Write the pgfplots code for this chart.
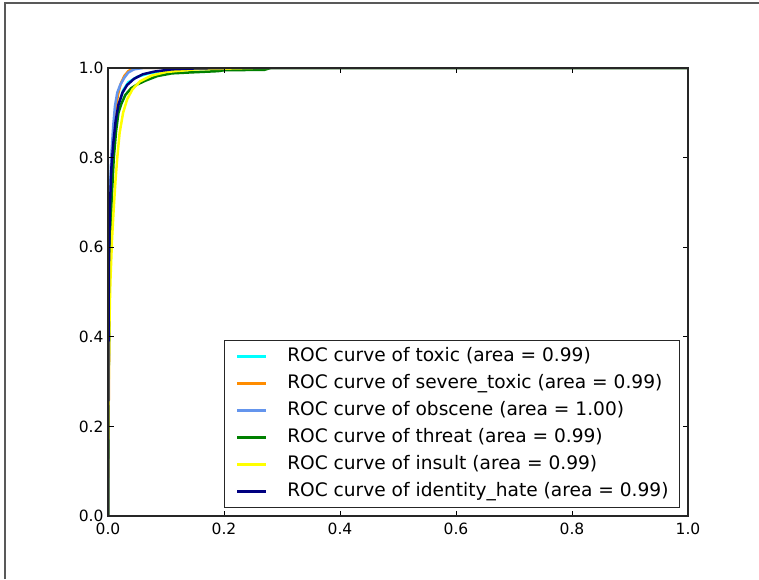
\documentclass[border=0pt]{standalone}
\usepackage{fontspec}
\setmainfont{DejaVu Sans}
\usepackage{pgfplots}
\pgfplotsset{compat=1.18}
\definecolor{cAqua}{HTML}{00FFFF}
\definecolor{cOrange}{HTML}{FF8C00}
\definecolor{cBlue}{HTML}{6495ED}
\definecolor{cGreen}{HTML}{008000}
\definecolor{cYellow}{HTML}{FFFF00}
\definecolor{cNavy}{HTML}{000080}
\begin{document}
\begin{tikzpicture}[x=1pt,y=1pt]
\useasboundingbox (0,0) rectangle (759,579);
\draw[line width=1.2pt, color=black!65] (5,0) -- (5,576) -- (759,576);
\begin{axis}[
  at={(108pt,63pt)}, anchor=south west,
  scale only axis, width=580pt, height=448pt,
  xmin=0, xmax=1, ymin=0, ymax=1,
  xtick={0,0.2,0.4,0.6,0.8,1.0},
  ytick={0,0.2,0.4,0.6,0.8,1.0},
  xticklabels={0.0,0.2,0.4,0.6,0.8,1.0},
  yticklabels={0.0,0.2,0.4,0.6,0.8,1.0},
  tick align=inside, major tick length=5.5pt,
  tick style={black, line width=0.8pt},
  axis line style={black!85, line width=1.1pt},
  ticklabel style={font=\fontsize{15.5}{18}\selectfont},
  /pgf/number format/assume math mode=true,
  xticklabel style={yshift=-3pt},
  yticklabel style={xshift=-1pt},
  axis on top,
  legend image code/.code={\draw[#1, line width=2.5pt] (0pt,0pt) -- (29pt,0pt);},
  legend cell align=left,
  legend style={at={(1,0)}, xshift=-8pt, yshift=8pt, anchor=south east,
    draw=black!85, line width=1pt,
    font=\fontsize{18.6}{22}\selectfont,
    inner xsep=11pt, inner ysep=7pt,
    row sep=9pt, column sep=0pt,
    nodes={inner sep=0pt, text height=13.5pt, text depth=4.5pt},
  },
  every axis plot/.append style={line width=2.5pt, line join=round},
]
\addplot[cAqua] coordinates {(0,0)(0.001,0.3)(0.002,0.5)(0.004,0.65)(0.007,0.76)(0.01,0.83)(0.014,0.88)(0.019,0.92)(0.026,0.95)(0.035,0.968)(0.05,0.98)(0.07,0.988)(0.1,0.994)(0.15,0.998)(0.25,1)(1,1)};
\addlegendentry{\hspace{20pt}ROC curve of toxic (area = 0.99)}
\addplot[cOrange] coordinates {(0,0)(0.001,0.2)(0.002,0.4)(0.003,0.55)(0.005,0.68)(0.007,0.78)(0.01,0.85)(0.013,0.9)(0.017,0.94)(0.022,0.965)(0.028,0.982)(0.035,0.993)(0.045,1)(1,1)};
\addlegendentry{\hspace{20pt}ROC curve of severe\_toxic (area = 0.99)}
\addplot[cBlue] coordinates {(0,0)(0.0005,0.3)(0.001,0.5)(0.002,0.65)(0.004,0.75)(0.006,0.81)(0.009,0.87)(0.012,0.915)(0.016,0.945)(0.021,0.962)(0.028,0.978)(0.035,0.99)(0.045,0.997)(0.06,1.0)(1,1)};
\addlegendentry{\hspace{20pt}ROC curve of obscene (area = 1.00)}
\addplot[cGreen] coordinates {(0,0)(0.001,0.3)(0.003,0.55)(0.006,0.7)(0.01,0.8)(0.014,0.86)(0.018,0.9)(0.023,0.92)(0.03,0.94)(0.04,0.955)(0.05,0.963)(0.065,0.972)(0.085,0.982)(0.11,0.988)(0.14,0.99)(0.19,0.993)(0.2,0.995)(0.27,0.996)(0.28,1)(1,1)};
\addlegendentry{\hspace{20pt}ROC curve of threat (area = 0.99)}
\addplot[cYellow] coordinates {(0,0)(0.0005,0.2)(0.002,0.4)(0.004,0.52)(0.007,0.62)(0.01,0.69)(0.013,0.75)(0.016,0.8)(0.02,0.855)(0.026,0.9)(0.033,0.93)(0.042,0.952)(0.055,0.97)(0.075,0.983)(0.1,0.991)(0.15,0.997)(0.25,1)(1,1)};
\addlegendentry{\hspace{20pt}ROC curve of insult (area = 0.99)}
\addplot[cNavy] coordinates {(0,0)(0.0005,0.3)(0.0015,0.55)(0.003,0.68)(0.006,0.78)(0.009,0.83)(0.013,0.88)(0.018,0.918)(0.025,0.945)(0.033,0.962)(0.045,0.976)(0.06,0.986)(0.08,0.992)(0.11,0.997)(0.15,0.999)(0.2,1)(1,1)};
\addlegendentry{\hspace{20pt}ROC curve of identity\_hate (area = 0.99)}
\end{axis}
\end{tikzpicture}
\end{document}
